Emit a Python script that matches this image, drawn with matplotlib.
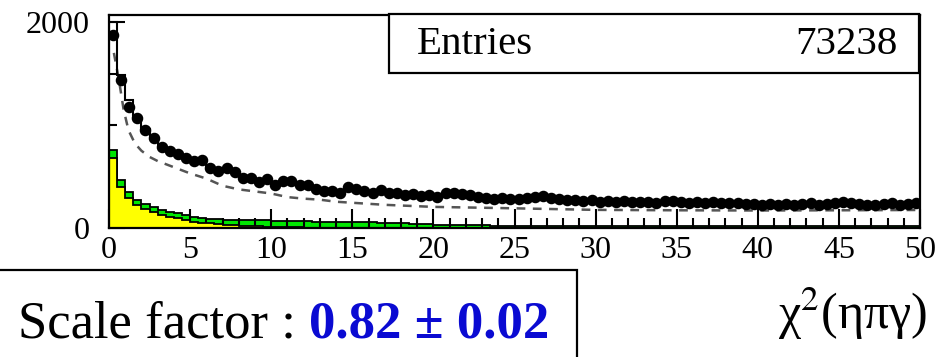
import numpy as np
import matplotlib
matplotlib.use("Agg")
import matplotlib.pyplot as plt
from matplotlib.patches import Rectangle

plt.rcParams['font.family'] = ['Liberation Serif', 'DejaVu Serif']
plt.rcParams['mathtext.fontset'] = 'stix'

# ---------------- data ----------------
bin_edges = np.linspace(0, 50, 101)

data_counts = [1874, 1437, 1175, 1068, 951, 874, 787, 748, 718, 680,
               651, 665, 583, 550, 583, 540, 485, 490, 450, 475,
               420, 460, 455, 420, 415, 375, 355, 362, 340, 398,
               380, 362, 342, 369, 343, 335, 318, 330, 312, 325,
               305, 335, 340, 328, 322, 300, 290, 282, 295, 278,
               285, 292, 300, 308, 296, 280, 270, 275, 262, 268,
               255, 258, 250, 262, 255, 248, 252, 245, 262, 265,
               250, 246, 255, 242, 250, 238, 245, 240, 232, 236,
               225, 230, 228, 235, 222, 230, 238, 228, 235, 240,
               252, 238, 232, 228, 225, 232, 240, 228, 235, 240]

mc_total = [2000, 1485, 1243, 1078, 960, 880, 800, 755, 720, 690,
            660, 640, 600, 575, 560, 540, 505, 495, 470, 465,
            445, 445, 440, 425, 410, 390, 372, 362, 352, 368,
            365, 355, 345, 350, 340, 332, 322, 325, 315, 318,
            310, 325, 330, 322, 315, 300, 290, 285, 290, 282,
            285, 290, 296, 300, 292, 280, 272, 272, 264, 265,
            258, 256, 252, 258, 254, 250, 250, 246, 256, 258,
            250, 246, 250, 243, 246, 240, 242, 238, 234, 235,
            228, 230, 228, 232, 226, 230, 234, 230, 232, 236,
            242, 236, 232, 230, 228, 232, 236, 230, 233, 236]

yellow_counts = [680, 400, 288, 223, 184, 158, 126, 110, 97, 78,
                 61, 51, 45, 38, 32, 27, 22, 18, 15, 12,
                 10, 8, 6, 5, 4, 3, 2, 2, 1, 1,
                 0, 0, 0, 0, 0, 0, 0, 0, 0, 0,
                 0, 0, 0, 0, 0, 0, 0, 0, 0, 0,
                 0, 0, 0, 0, 0, 0, 0, 0, 0, 0,
                 0, 0, 0, 0, 0, 0, 0, 0, 0, 0,
                 0, 0, 0, 0, 0, 0, 0, 0, 0, 0,
                 0, 0, 0, 0, 0, 0, 0, 0, 0, 0,
                 0, 0, 0, 0, 0, 0, 0, 0, 0, 0]

green_counts = [77, 66, 65, 49, 49, 49, 49, 48, 48, 48,
                46, 46, 42, 48, 50, 52, 55, 58, 60, 62,
                62, 62, 63, 62, 62, 60, 60, 58, 58, 56,
                55, 55, 54, 52, 50, 48, 45, 42, 38, 35,
                30, 28, 27, 26, 26, 25, 25, 24, 24, 24,
                23, 23, 23, 22, 22, 22, 22, 21, 21, 21,
                21, 20, 20, 20, 20, 20, 20, 20, 20, 20,
                20, 20, 20, 20, 20, 20, 20, 20, 20, 20,
                20, 20, 20, 20, 20, 20, 20, 20, 20, 20,
                20, 20, 20, 20, 20, 20, 20, 20, 20, 20]

bkg_x = [0.3, 0.6, 0.9, 1.2, 1.6, 2.0, 2.5, 3.0, 4.0, 5.0, 6.0, 7.0, 8.0,
         9.0, 10, 11, 12, 13, 14, 15, 17, 20, 24, 27, 30, 35, 40, 45, 50]
bkg_y = [1700, 1450, 1150, 950, 820, 750, 690, 650, 590, 530, 480, 410, 375,
         355, 335, 300, 285, 275, 255, 245, 225, 205, 194, 185, 176, 172, 170,
         172, 175]

x_ticks = [0, 5, 10, 15, 20, 25, 30, 35, 40, 45, 50]
y_ticks = [0, 2000]
entries_value = "73238"
scale_text = "Scale factor : "
scale_value = "0.82 \u00b1 0.02"

# ---------------- figure ----------------
W, H = 935, 357
fig = plt.figure(figsize=(W / 100, H / 100), dpi=100)
ax = fig.add_axes([109 / W, 1 - 228 / H, (920 - 109) / W, (228 - 15) / H])

yellow = np.array(yellow_counts, float)
green_top = yellow + np.array(green_counts, float)

ax.stairs(green_top, bin_edges, fill=True, color='#00e600', zorder=1)
ax.stairs(green_top, bin_edges, color='black', lw=1.3, zorder=2)
ax.stairs(yellow, bin_edges, fill=True, color='#ffff00', zorder=3)
ax.stairs(yellow, bin_edges, color='black', lw=1.3, zorder=4)

ax.plot(bkg_x, bkg_y, color='#555555', lw=1.8, dashes=(3.5, 3.0), zorder=5)
ax.stairs(mc_total, bin_edges, color='black', lw=1.5, zorder=6)

centers = 0.5 * (bin_edges[:-1] + bin_edges[1:])
ax.plot(centers, data_counts, 'o', color='black', ms=7.3, zorder=7)

ax.set_xlim(0, 50)
ax.set_ylim(0, 2068)
ax.set_xticks(x_ticks)
ax.set_xticks(np.arange(0, 51, 1), minor=True)
ax.set_yticks(y_ticks)
ax.set_yticks([500, 1000, 1500], minor=True)
ax.set_xticklabels([str(v) for v in x_ticks])
ax.set_yticklabels([str(v) for v in y_ticks])

ax.tick_params(axis='x', which='major', direction='in', length=13.5, width=1.5,
               labelsize=23, pad=6)
ax.tick_params(axis='x', which='minor', direction='in', length=7, width=1.5)
ax.tick_params(axis='y', which='major', direction='in', length=11.5, width=1.5,
               labelsize=23, pad=14)
ax.tick_params(axis='y', which='minor', direction='in', length=6, width=1.5)
ax.tick_params(top=False, right=False)
ax.set_axisbelow(False)
for s in ax.spines.values():
    s.set_linewidth(1.6)
    s.set_zorder(10)

# Entries box
def px2fig(x, y):
    return x / W, 1 - y / H

bx0, by0 = px2fig(389, 73)
fig.patches.append(Rectangle((bx0, by0), (919 - 389) / W, (73 - 14) / H,
                             transform=fig.transFigure, fill=True,
                             facecolor='white', edgecolor='black', lw=1.6,
                             zorder=20))
tx, ty = px2fig(417, 45)
fig.text(tx, ty, "Entries", fontsize=29.5, va='center', ha='left', zorder=21)
tx, ty = px2fig(897, 45)
fig.text(tx, ty, entries_value, fontsize=29.5, va='center', ha='right', zorder=21)

# Scale factor box
sx0, sy0 = px2fig(-2, 360)
fig.patches.append(Rectangle((sx0, sy0), (577 + 2) / W, (360 - 270) / H,
                             transform=fig.transFigure, fill=False,
                             edgecolor='black', lw=1.6, zorder=20))
tx, ty = px2fig(18, 337)
t1 = fig.text(tx, ty, scale_text, fontsize=38, va='baseline', ha='left')
ax.annotate(scale_value, xy=(1, 0), xycoords=t1, xytext=(0, 0),
            textcoords='offset points', va='bottom', ha='left',
            fontsize=38, fontweight='bold', color='#0a0ad2',
            annotation_clip=False)

# axis title
tx, ty = px2fig(927, 314)
fig.text(tx, ty, 'χ$^{2}$(ηπγ)', fontsize=36, ha='right', va='center')

fig.savefig("out.png", dpi=100)
